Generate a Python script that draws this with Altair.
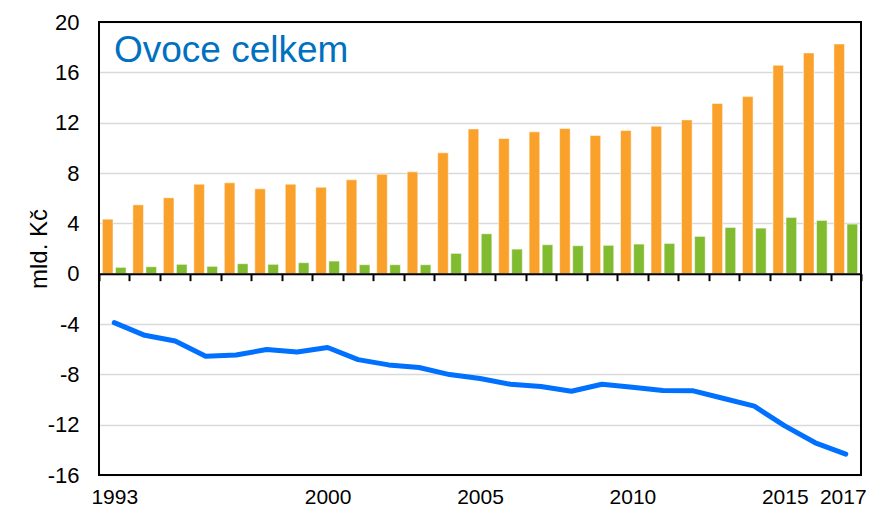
import altair as alt
import pandas as pd

years = list(range(1993, 2018))
imports = [4.33, 5.47, 6.03, 7.11, 7.22, 6.74, 7.11, 6.87, 7.46, 7.91, 8.09, 9.60, 11.5,
           10.74, 11.27, 11.53, 10.98, 11.37, 11.72, 12.22, 13.52, 14.07, 16.56, 17.54, 18.25]
exports = [0.5, 0.55, 0.74, 0.58, 0.79, 0.74, 0.87, 1.0, 0.71, 0.71, 0.71, 1.61, 3.17,
           1.95, 2.3, 2.22, 2.25, 2.35, 2.4, 2.96, 3.67, 3.62, 4.47, 4.23, 3.94]
balance = [-3.89, -4.9, -5.35, -6.56, -6.46, -6.03, -6.22, -5.87, -6.83, -7.25, -7.46, -8.02, -8.33,
           -8.79, -8.97, -9.34, -8.79, -9.02, -9.29, -9.31, -9.92, -10.53, -12.1, -13.44, -14.34]
series_names = ["Dovoz", "Vývoz"]
series_colors = ["#F9A12A", "#80BB30"]
shown_labels = [1993, 2000, 2005, 2010, 2015, 2017]
y_ticks = [-16, -12, -8, -4, 0, 4, 8, 12, 16, 20]
y_min, y_max = -16, 20
title_text = "Ovoce celkem"

W, H = 762, 453
FONT = "Liberation Sans"

bars_df = pd.DataFrame({
    "year": years * 2,
    "series": [series_names[0]] * len(years) + [series_names[1]] * len(years),
    "value": imports + exports,
})
line_df = pd.DataFrame({"year": years, "value": balance})
one_df = pd.DataFrame({"label": [title_text]})

zero_offset = -H * (0 - y_min) / (y_max - y_min)
tick_size = 7

x_enc = alt.X(
    "year:O",
    scale=alt.Scale(paddingInner=0, paddingOuter=0),
    axis=alt.Axis(
        title=None,
        orient="bottom",
        offset=zero_offset,
        domain=True, domainColor="black", domainWidth=2,
        ticks=True, tickBand="extent", tickColor="black", tickWidth=2, tickSize=tick_size,
        labelAngle=0, labelFont=FONT, labelFontSize=21, labelColor="black",
        labelPadding=-zero_offset + 11 - tick_size,
        labelOffset={"condition": {"test": "datum.value == 2017", "value": -3}, "value": 0},
        labelOverlap=False,
        labelExpr="indexof(" + str(shown_labels) + ", datum.value) >= 0 ? datum.label : ''",
        grid=False, zindex=2,
    ),
)

y_axis = alt.Axis(
    title="mld. Kč", titleFont=FONT, titleFontSize=24, titleFontWeight="normal",
    titleColor="black", titlePadding=-4,
    values=y_ticks, labelExpr="'' + datum.value",
    labelFont=FONT, labelFontSize=22, labelColor="black", labelPadding=20,
    domain=False, ticks=False, tickSize=0,
    grid=True, gridColor="#D9D9D9", gridWidth=1.5,
)
y_scale = alt.Scale(domain=[y_min, y_max], nice=False, zero=False)

bars = alt.Chart(bars_df).mark_bar(stroke="white", strokeWidth=1, strokeOpacity=0.5).encode(
    x=x_enc,
    xOffset=alt.XOffset("series:N", sort=series_names,
                        scale=alt.Scale(domain=series_names, paddingInner=0.19, paddingOuter=0.26)),
    y=alt.Y("value:Q", scale=y_scale, axis=y_axis),
    color=alt.Color("series:N", scale=alt.Scale(domain=series_names, range=series_colors), legend=None),
)

line = alt.Chart(line_df).mark_line(color="#0070FF", strokeWidth=5, strokeCap="round", strokeJoin="round").encode(
    x=x_enc,
    y=alt.Y("value:Q", scale=y_scale, axis=y_axis),
)

frame = alt.Chart(one_df).mark_rect(filled=False, stroke="black", strokeWidth=2).encode(
    x=alt.value(0), x2=alt.value(W), y=alt.value(0), y2=alt.value(H),
)

title = alt.Chart(one_df).mark_text(
    font=FONT, fontSize=37, fontWeight="normal", color="#0070C0",
    align="left", baseline="alphabetic",
).encode(text="label:N", x=alt.value(15), y=alt.value(40))

chart = alt.layer(bars, line, frame, title).properties(
    width=W, height=H,
    autosize=alt.AutoSizeParams(type="none"),
    padding={"left": 91, "top": 14, "right": 5, "bottom": 33},
).configure_view(stroke=None)

chart.save("out.html", embed_options={"renderer": "svg", "actions": False})
